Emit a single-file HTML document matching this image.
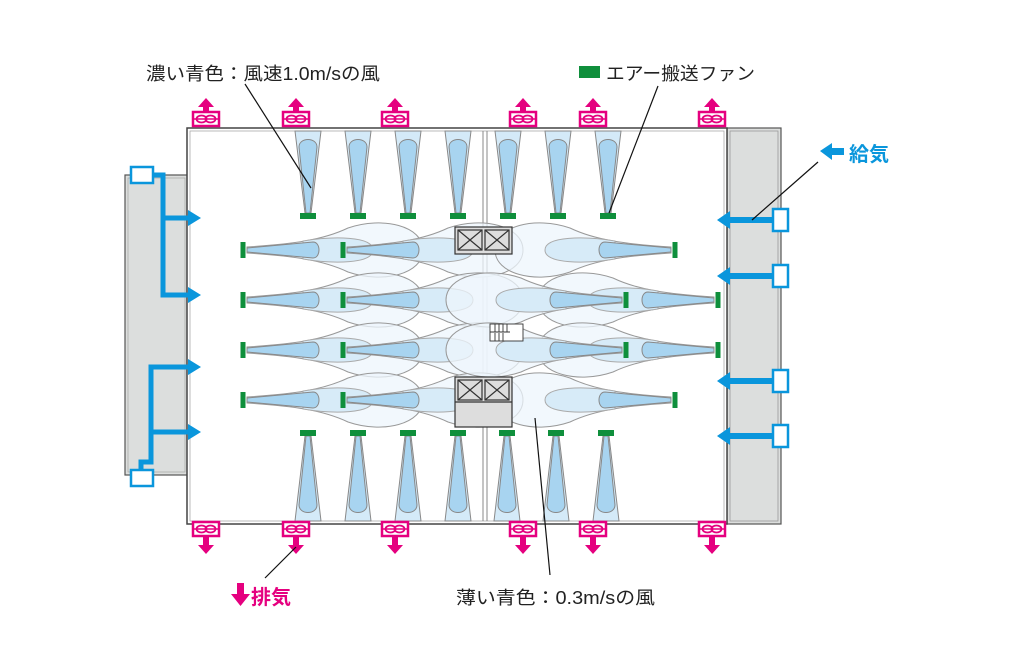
<!DOCTYPE html>
<html><head><meta charset="utf-8"><style>
html,body{margin:0;padding:0;background:#fff;}
svg{display:block;}
text{font-family:"Liberation Sans","Noto Sans CJK JP",sans-serif;}
</style></head><body>
<svg id="s" width="1012" height="670" viewBox="0 0 1012 670" xmlns="http://www.w3.org/2000/svg">
<rect width="1012" height="670" fill="#fff"/>
<rect x="727" y="128" width="54" height="396" fill="#dcdedd" stroke="#555" stroke-width="1.2"/>
<rect x="730" y="131" width="48" height="390" fill="none" stroke="#999" stroke-width="0.8"/>
<rect x="125" y="175" width="63" height="300" fill="#dcdedd" stroke="#555" stroke-width="1.2"/>
<rect x="128" y="178" width="57" height="294" fill="none" stroke="#aaa" stroke-width="0.8"/>
<rect x="187" y="128" width="540" height="396" fill="#fff" stroke="#444" stroke-width="1.5"/>
<rect x="190" y="131" width="534" height="390" fill="none" stroke="#aaa" stroke-width="0.8"/>
<line x1="483" y1="131" x2="483" y2="521" stroke="#888" stroke-width="1"/>
<line x1="487" y1="131" x2="487" y2="521" stroke="#888" stroke-width="1"/>
<g id="jets"></g>
<g id="fans"></g>
<g stroke="#333" stroke-width="1.2" fill="#ddd">
<rect x="455" y="227" width="57" height="27"/>
<rect x="458" y="230" width="24" height="20"/><rect x="485" y="230" width="24" height="20"/>
<path d="M458 230L482 250M482 230L458 250M485 230L509 250M509 230L485 250" fill="none"/>
<rect x="455" y="377" width="57" height="50"/>
<rect x="458" y="380" width="24" height="20"/><rect x="485" y="380" width="24" height="20"/>
<path d="M458 380L482 400M482 380L458 400M485 380L509 400M509 380L485 400" fill="none"/>
<line x1="455" y1="402" x2="512" y2="402"/>
</g>
<g stroke="#333" stroke-width="0.9" fill="#fff">
<rect x="490" y="324" width="33" height="17"/>
<path d="M495 324v8M499 324v8M503 324v8M507 324v8M495 333v8M499 333v8M503 333v8M490 332h20" fill="none"/>
</g>
<g stroke="#0a96dc" stroke-width="5" fill="none" stroke-linejoin="miter">
<path d="M153 175H163V295H192"/>
<path d="M163 218H192"/>
<path d="M192 367H151V462H141V470"/>
<path d="M151 432H192"/>
</g>
<g fill="#0a96dc">
<polygon points="188,210 201,218 188,226"/><polygon points="188,287 201,295 188,303"/>
<polygon points="188,359 201,367 188,375"/><polygon points="188,424 201,432 188,440"/>
</g>
<rect x="131" y="167" width="22" height="16" fill="#fff" stroke="#0a96dc" stroke-width="2.5"/>
<rect x="131" y="470" width="22" height="16" fill="#fff" stroke="#0a96dc" stroke-width="2.5"/>
<g id="rs"></g>
<g id="ex"></g>
<g stroke="#111" stroke-width="1.2">
<line x1="245" y1="84" x2="311" y2="188"/>
<line x1="658" y1="86" x2="609" y2="213"/>
<line x1="818" y1="162" x2="752" y2="220"/>
<line x1="296" y1="547" x2="265" y2="578"/>
<line x1="535" y1="418" x2="550" y2="575"/>
</g>
<text x="146" y="80" font-size="18" fill="#222" textLength="234" lengthAdjust="spacingAndGlyphs">濃い青色：風速1.0m/sの風</text>
<rect x="579" y="66" width="21" height="12" fill="#0f8f3c"/>
<text x="606" y="80" font-size="18" fill="#222" textLength="149" lengthAdjust="spacingAndGlyphs">エアー搬送ファン</text>
<polygon points="820,151 832,143 832,148 844,148 844,155 832,155 832,160" fill="#0a96dc"/>
<text x="849" y="161" font-size="20" font-weight="bold" fill="#0a96dc">給気</text>
<polygon points="237,583 244,583 244,594 250,594 240.5,606 231,594 237,594" fill="#e5007f"/>
<text x="251" y="604" font-size="20" font-weight="bold" fill="#e5007f">排気</text>
<text x="456" y="604" font-size="18" fill="#222" textLength="199" lengthAdjust="spacingAndGlyphs">薄い青色：0.3m/sの風</text>
</svg>
<script>
const NS="http://www.w3.org/2000/svg";
function el(p,t,a){const e=document.createElementNS(NS,t);for(const k in a)e.setAttribute(k,a[k]);document.getElementById(p).appendChild(e);return e;}
function jet(x0,y,d){
  const X=v=>x0+d*v;
  el("jets","path",{d:`M${X(4)} ${y-3} C${X(50)} ${y-6} ${X(80)} ${y-10} ${X(105)} ${y-22} C${X(140)} ${y-34} ${X(180)} ${y-24} ${X(180)} ${y} C${X(180)} ${y+24} ${X(140)} ${y+34} ${X(105)} ${y+22} C${X(80)} ${y+10} ${X(50)} ${y+6} ${X(4)} ${y+3}Z`,fill:"#eef6fc","fill-opacity":"0.75",stroke:"#999","stroke-width":"1"});
  el("jets","path",{d:`M${X(60)} ${y-9} C${X(90)} ${y-14} ${X(130)} ${y-14} ${X(130)} ${y} C${X(130)} ${y+14} ${X(90)} ${y+14} ${X(60)} ${y+9}Z`,fill:"#d7ebf8",stroke:"#aaa","stroke-width":"1"});
  el("jets","path",{d:`M${X(4)} ${y-2} L${X(70)} ${y-8} C${X(78)} ${y-8} ${X(78)} ${y+8} ${X(70)} ${y+8} L${X(4)} ${y+2}Z`,fill:"#a8d4f0",stroke:"#888","stroke-width":"1"});
}
[250,300,350,400].forEach(y=>{jet(243,y,1);jet(343,y,1);});
jet(675,250,-1);jet(675,400,-1);
[300,350].forEach(y=>{jet(718,y,-1);jet(626,y,-1);});
function vcone(x,y0,y1){
  const s=y1<y0?-1:1;
  el("jets","path",{d:`M${x-3} ${y0} L${x-13} ${y1} L${x+13} ${y1} L${x+3} ${y0}Z`,fill:"#d4eaf8",stroke:"#888","stroke-width":"1"});
  const yt=y1-s*6;
  el("jets","path",{d:`M${x-2} ${y0} L${x-9} ${yt+s*-10} C${x-9} ${yt} ${x+9} ${yt} ${x+9} ${yt+s*-10} L${x+2} ${y0}Z`,fill:"#a8d4f0",stroke:"#888","stroke-width":"1"});
}
[308,358,408,458,508,558,608].forEach(x=>{vcone(x,213,131);el("fans","rect",{x:x-8,y:213,width:16,height:6,fill:"#0f8f3c"});});
[308,358,408,458,507,556,606].forEach(x=>{vcone(x,436,521);el("fans","rect",{x:x-8,y:430,width:16,height:6,fill:"#0f8f3c"});});
[[243,250],[343,250],[243,300],[343,300],[243,350],[343,350],[243,400],[343,400],[675,250],[675,400],[626,300],[718,300],[626,350],[718,350]].forEach(([x,y])=>el("fans","rect",{x:x-2.5,y:y-8,width:5,height:16,fill:"#0f8f3c"}));
[[220],[276],[381],[436]].forEach(([y])=>{
  el("rs","rect",{x:728,y:y-3,width:46,height:6,fill:"#0a96dc"});
  el("rs","polygon",{points:`${717},${y} ${730},${y-9} ${730},${y+9}`,fill:"#0a96dc"});
  el("rs","rect",{x:773,y:y-11,width:15,height:22,fill:"#fff",stroke:"#0a96dc","stroke-width":"2.5"});
});
function exb(x,y){
  el("ex","rect",{x:x-13,y:y,width:26,height:14,fill:"#fff",stroke:"#e5007f","stroke-width":"2.5"});
  el("ex","line",{x1:x-13,y1:y+7,x2:x+13,y2:y+7,stroke:"#e5007f","stroke-width":"1.5"});
  el("ex","ellipse",{cx:x-4.5,cy:y+7,rx:5,ry:3.5,fill:"none",stroke:"#e5007f","stroke-width":"1.8"});
  el("ex","ellipse",{cx:x+4.5,cy:y+7,rx:5,ry:3.5,fill:"none",stroke:"#e5007f","stroke-width":"1.8"});
}
[206,296,395,523,593,712].forEach(x=>{
  exb(x,112);
  el("ex","polygon",{points:`${x-3},112 ${x-3},107 ${x-8},107 ${x},98 ${x+8},107 ${x+3},107 ${x+3},112`,fill:"#e5007f"});
  exb(x,522);
  el("ex","polygon",{points:`${x-3},536 ${x-3},545 ${x-8},545 ${x},554 ${x+8},545 ${x+3},545 ${x+3},536`,fill:"#e5007f"});
});
</script>
</body></html>
